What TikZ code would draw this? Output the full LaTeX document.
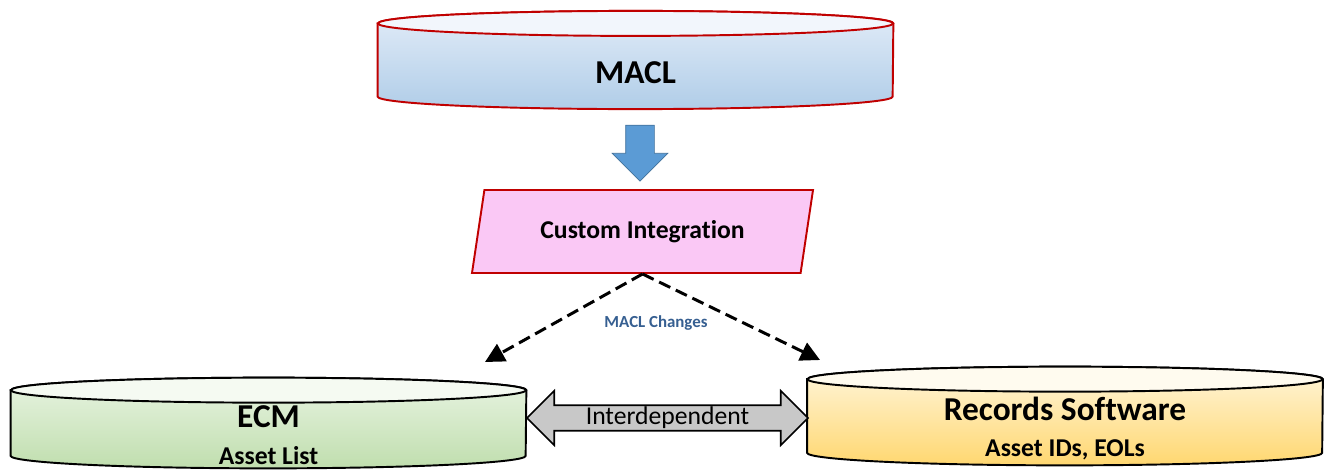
\documentclass[tikz,border=0pt]{standalone}
\usepackage{fontspec}
\setmainfont{Carlito}[Ligatures=NoCommon]
\usetikzlibrary{arrows.meta, positioning, shapes.geometric, shapes.arrows, backgrounds}

\definecolor{macltop}{RGB}{226,236,248}
\definecolor{maclbot}{RGB}{176,205,232}
\definecolor{macledge}{RGB}{192,0,0}
\definecolor{ecmtop}{RGB}{232,244,226}
\definecolor{ecmbot}{RGB}{192,222,174}
\definecolor{rectop}{RGB}{255,246,220}
\definecolor{recbot}{RGB}{255,215,112}
\definecolor{integfill}{RGB}{250,200,245}
\definecolor{flowblue}{RGB}{91,155,213}
\definecolor{flowedge}{RGB}{65,113,156}
\definecolor{chgtext}{RGB}{54,95,145}
\definecolor{linkgray}{RGB}{200,200,200}

\newcommand{\bigtxt}{\fontsize{19}{21}\selectfont\bfseries}
\newcommand{\midtxt}{\fontsize{14.6}{17}\selectfont}

% drum outline round a store node: name, edge, top colour, bottom colour
\newcommand{\drum}[4]{%
  \begin{scope}[on background layer]
    \draw [drumedge, draw=#2, top color=#3, bottom color=#4]
      ([yshift=0.25cm]#1.north west) -- ([yshift=0.25cm]#1.south west)
      arc [start angle=180, end angle=360, x radius=5.15cm, y radius=0.25cm]
      -- ([yshift=0.25cm]#1.north east)
      arc [start angle=0, end angle=180, x radius=5.15cm, y radius=0.25cm] -- cycle;
    \draw [drumedge, draw=#2, fill=white!55!#3]
      ([yshift=0.25cm]#1.north) ellipse [x radius=5.15cm, y radius=0.25cm];
  \end{scope}}

\begin{document}
\begin{tikzpicture}[
    store/.style={
        align=center,
        inner sep=0pt,
        minimum width=10.3cm,
        font=\bigtxt
    },
    drumedge/.style={
        line width=1.1pt
    },
    integ/.style={
        trapezium,
        trapezium left angle=70,
        trapezium right angle=110,
        trapezium stretches body,
        draw=macledge,
        fill=integfill,
        line width=1.1pt,
        minimum width=6.82cm,
        minimum height=1.66cm,
        font=\midtxt\bfseries
    },
    flow/.style={
        single arrow,
        single arrow head extend=0.27cm,
        draw=flowedge,
        fill=flowblue,
        inner sep=0.28cm,
        minimum height=1.12cm,
        rotate=-90
    },
    link/.style={
        double arrow,
        double arrow head extend=0.29cm,
        draw,
        fill=linkgray,
        line width=0.9pt,
        inner sep=0.02cm,
        minimum height=5.62cm,
        font=\midtxt
    },
    change/.style={
        -{Triangle[length=11pt,width=11pt]},
        line width=1.7pt,
        dash pattern=on 7pt off 3.5pt
    }
]
\useasboundingbox (0,0) rectangle (26.62,9.4);

% Nodes
\node (macl) [store, minimum height=1.45cm] at (12.71,7.95) {MACL};
\node (push) [flow] at (12.8,6.48) {};
\node (integ) [integ] at (12.85,4.77) {Custom Integration};
\node (ecm) [store, minimum height=1.3cm] at (5.37,0.69)
    {ECM\\{\midtxt\bfseries Asset List}};
\node (rec) [store, minimum height=1.46cm] at (21.3,0.83)
    {Records Software\\{\midtxt\bfseries Asset IDs, EOLs}};
\node (inter) [link] at (13.35,1.04) {Interdependent};
\node (chg) [font=\fontsize{9.6}{11}\selectfont\bfseries, text=chgtext] at (13.12,2.94) {MACL Changes};

\drum{macl}{macledge}{macltop}{maclbot}
\drum{ecm}{black}{ecmtop}{ecmbot}
\drum{rec}{black}{rectop}{recbot}

\coordinate (toecm) at (9.7,2.16);
\coordinate (torec) at (16.4,2.2);

% Paths
\draw [change] (integ.south) -- (toecm);
\draw [change] (integ.south) -- (torec);

\end{tikzpicture}
\end{document}
